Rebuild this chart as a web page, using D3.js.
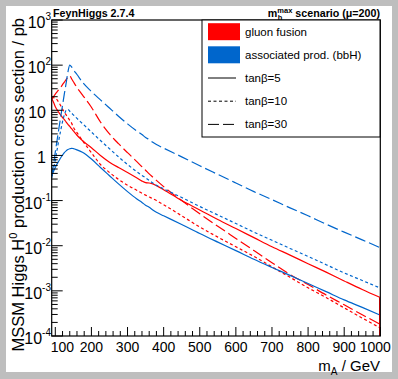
<!DOCTYPE html>
<html><head><meta charset="utf-8">
<script src="https://cdn.jsdelivr.net/npm/d3@7"></script>
<style>
body{margin:0;background:#fff}
svg{display:block}
text{font-family:"Liberation Sans",Arial,Helvetica,sans-serif;fill:#000}
</style>
</head><body>
<svg id="c" width="398" height="379"></svg>
<script>
// ---- data ----
const masses = [90,95,100,105,110,115,120,125,130,135,140,145,150,160,175,200,225,250,275,300,325,340,350,360,370,380,400,450,500,550,600,650,700,750,800,850,900,950,1000];
// gluon fusion (pb)
const ggH_tb5  = [18.2,15.1,12.0,10.2,8.9,7.8,6.9,6.2,5.5,4.9,4.4,3.9,3.5,2.8,2.14,1.48,1.0,0.71,0.54,0.42,0.32,0.27,0.25,0.245,0.234,0.214,0.174,0.1,0.062,0.038,0.024,0.0151,0.0095,0.0062,0.0040,0.0026,0.00166,0.00107,0.00071];
const ggH_tb10 = [18.2,19,18.6,17,14.8,12.6,10.7,9.1,7.9,6.9,6.0,5.2,4.2,3.2,2.14,1.15,0.63,0.42,0.295,0.219,0.17,0.145,0.132,0.12,0.11,0.1,0.081,0.046,0.026,0.0155,0.0095,0.0058,0.0034,0.002,0.00117,0.00071,0.00042,0.00025,0.000151];
const ggH_tb30 = [18.2,20,22.9,25.7,28.8,32,37,42,48,54,58,50,43,32,22,11.7,5.5,3.0,1.82,1.15,0.74,0.56,0.47,0.39,0.33,0.28,0.204,0.1,0.051,0.027,0.0145,0.0078,0.0042,0.0023,0.00138,0.00081,0.00049,0.000295,0.000182];
// associated production bbH (pb)
const bbH_tb5  = [0.35,0.44,0.54,0.65,0.76,0.89,1.02,1.15,1.26,1.35,1.41,1.44,1.42,1.33,1.17,0.83,0.54,0.355,0.234,0.158,0.11,0.091,0.079,0.071,0.062,0.055,0.046,0.0295,0.0186,0.012,0.0078,0.0050,0.0033,0.0022,0.00145,0.00096,0.00063,0.00043,0.00029];
const bbH_tb10 = [0.32,0.5,0.79,1.35,2.24,3.6,5.6,7.9,10,10.5,9.5,8.7,7.9,6.6,5.1,3.3,2.14,1.41,0.93,0.63,0.44,0.36,0.32,0.28,0.245,0.219,0.182,0.117,0.074,0.048,0.031,0.020,0.0132,0.0087,0.0058,0.0038,0.0025,0.0017,0.00115];
const bbH_tb30 = [0.35,0.63,1.2,2.2,4.0,7.2,12.9,23,40,71,100,91,79,62,42,26,17,11.2,7.4,5.0,3.5,2.9,2.5,2.24,1.95,1.74,1.45,0.93,0.59,0.38,0.245,0.158,0.105,0.069,0.046,0.030,0.020,0.0135,0.0090];

const xTickValues = [100,200,300,400,500,600,700,800,900,1000];
const yTickExps = [-4,-3,-2,-1,0,1,2,3];
const legendLabels = ["gluon fusion","associated prod. (bbH)","tan\u03B2=5","tan\u03B2=10","tan\u03B2=30"];

const RED = "#ff0000", BLUE = "#0066cc";
const series = [
  {v: ggH_tb5,  c: RED,  d: null},
  {v: ggH_tb10, c: RED,  d: "3,2.5"},
  {v: ggH_tb30, c: RED,  d: "11,4"},
  {v: bbH_tb5,  c: BLUE, d: null},
  {v: bbH_tb10, c: BLUE, d: "3,2.5"},
  {v: bbH_tb30, c: BLUE, d: "11,4"}
];

// ---- layout ----
const svg = d3.select("#c");
const L = 51.7, R = 380.3, T = 20, B = 336;
svg.append("rect").attr("width",398).attr("height",379).attr("fill","#bebebe");
svg.append("rect").attr("x",6).attr("y",6).attr("width",386).attr("height",366).attr("fill","#fff");

const x = d3.scaleLinear().domain([90,1000]).range([L,R]);
const y = d3.scaleLog().domain([1e-4,1e3]).range([B,T]);

svg.append("clipPath").attr("id","clip").append("rect")
  .attr("x",L).attr("y",T).attr("width",R-L).attr("height",B-T);

const line = d3.line().x((d,i)=>x(masses[i])).y(d=>y(d)).curve(d3.curveMonotoneX);
const g = svg.append("g").attr("clip-path","url(#clip)");
series.forEach(s=>{
  g.append("path").attr("d",line(s.v)).attr("fill","none")
   .attr("stroke",s.c).attr("stroke-width",1.2)
   .attr("stroke-dasharray",s.d);
});
// red closing line at the end of the gluon-fusion curves
g.append("line").attr("x1",x(1000)-0.6).attr("x2",x(1000)-0.6)
  .attr("y1",y(ggH_tb5[ggH_tb5.length-1])).attr("y2",B)
  .attr("stroke",RED).attr("stroke-width",1.4);

// ---- frame ----
svg.append("rect").attr("x",L).attr("y",T).attr("width",R-L).attr("height",B-T)
  .attr("fill","none").attr("stroke","#000").attr("stroke-width",1.2);

// x ticks
const ax = svg.append("g").attr("stroke","#000").attr("stroke-width",1);
d3.range(100,1001,20).forEach(m=>{
  const major = m%100===0;
  ax.append("line").attr("x1",x(m)).attr("x2",x(m)).attr("y1",B).attr("y2",B-(major?9:5));
});
// y ticks
yTickExps.forEach(e=>{
  const v = Math.pow(10,e);
  ax.append("line").attr("x1",L).attr("x2",L+11).attr("y1",y(v)).attr("y2",y(v));
  if (e<3) for (let k=2;k<=9;k++){
    const yy = y(k*v);
    ax.append("line").attr("x1",L).attr("x2",L+6).attr("y1",yy).attr("y2",yy);
  }
});

// x tick labels
xTickValues.forEach((m,i)=>{
  let dx = 0;
  if (i===0) dx = 7;
  if (i===xTickValues.length-1) dx = -5;
  svg.append("text").attr("x",x(m)+dx).attr("y",351.5).attr("text-anchor","middle")
    .attr("font-size",14).text(String(m));
});
// y tick labels
yTickExps.forEach(e=>{
  const t = svg.append("text").attr("y",y(Math.pow(10,e))+8).attr("font-size",16);
  if (e===0){ t.attr("x",46).attr("text-anchor","end").text("1"); }
  else if (e===1){ t.attr("x",46).attr("text-anchor","end").text("10"); }
  else {
    t.attr("x",51).attr("text-anchor","end");
    t.append("tspan").text("10");
    t.append("tspan").attr("dy",-8).attr("font-size",10).text(String(e));
  }
});

// axis titles
const xt = svg.append("text").attr("x",380).attr("y",370.5).attr("text-anchor","end").attr("font-size",15);
xt.append("tspan").text("m");
xt.append("tspan").attr("dy",4).attr("font-size",10).text("A");
xt.append("tspan").attr("dy",-4).text(" / GeV");

const yt = svg.append("text").attr("transform","translate(24,18) rotate(-90)")
  .attr("text-anchor","end").attr("font-size",16.5);
yt.append("tspan").text("MSSM Higgs H");
yt.append("tspan").attr("dy",-7).attr("font-size",11).text("0");
yt.append("tspan").attr("dy",7).text(" production cross section / pb");

// top titles
svg.append("text").attr("x",53).attr("y",16.5).attr("font-size",10.7).attr("font-weight","bold").text("FeynHiggs 2.7.4");
const tr = svg.append("text").attr("x",380).attr("y",16.5).attr("text-anchor","end")
  .attr("font-size",10.7).attr("font-weight","bold");
tr.append("tspan").text("m");
tr.append("tspan").attr("dy",-4).attr("font-size",7.5).text("max");
tr.append("tspan").attr("dy",4).text(" scenario (\u03BC=200)");
const mw = 10.7*0.889;
svg.append("text").attr("x",0).attr("y",20).attr("font-size",7.5).attr("font-weight","bold")
  .attr("id","subh").text("h");

// ---- legend ----
const lg = svg.append("g");
lg.append("rect").attr("x",202).attr("y",T).attr("width",178).attr("height",117)
  .attr("fill","#fff").attr("stroke","#000").attr("stroke-width",1);
const rowY = [31.7,54.8,78,101.2,124.4];
lg.append("rect").attr("x",208).attr("y",rowY[0]-8.5).attr("width",32).attr("height",17).attr("fill",RED);
lg.append("rect").attr("x",208).attr("y",rowY[1]-8.5).attr("width",32).attr("height",17).attr("fill",BLUE);
[null,"3,2.5","11,4"].forEach((d,i)=>{
  lg.append("line").attr("x1",208).attr("x2",236).attr("y1",rowY[i+2]).attr("y2",rowY[i+2])
    .attr("stroke","#000").attr("stroke-width",1).attr("stroke-dasharray",d);
});
legendLabels.forEach((s,i)=>{
  lg.append("text").attr("x",245).attr("y",rowY[i]+4).attr("font-size",11.5).text(s);
});

const tnode = tr.node();
const startX = tnode.getStartPositionOfChar(0).x;
d3.select("#subh").attr("x",startX+mw+0.5);
</script>
</body></html>
